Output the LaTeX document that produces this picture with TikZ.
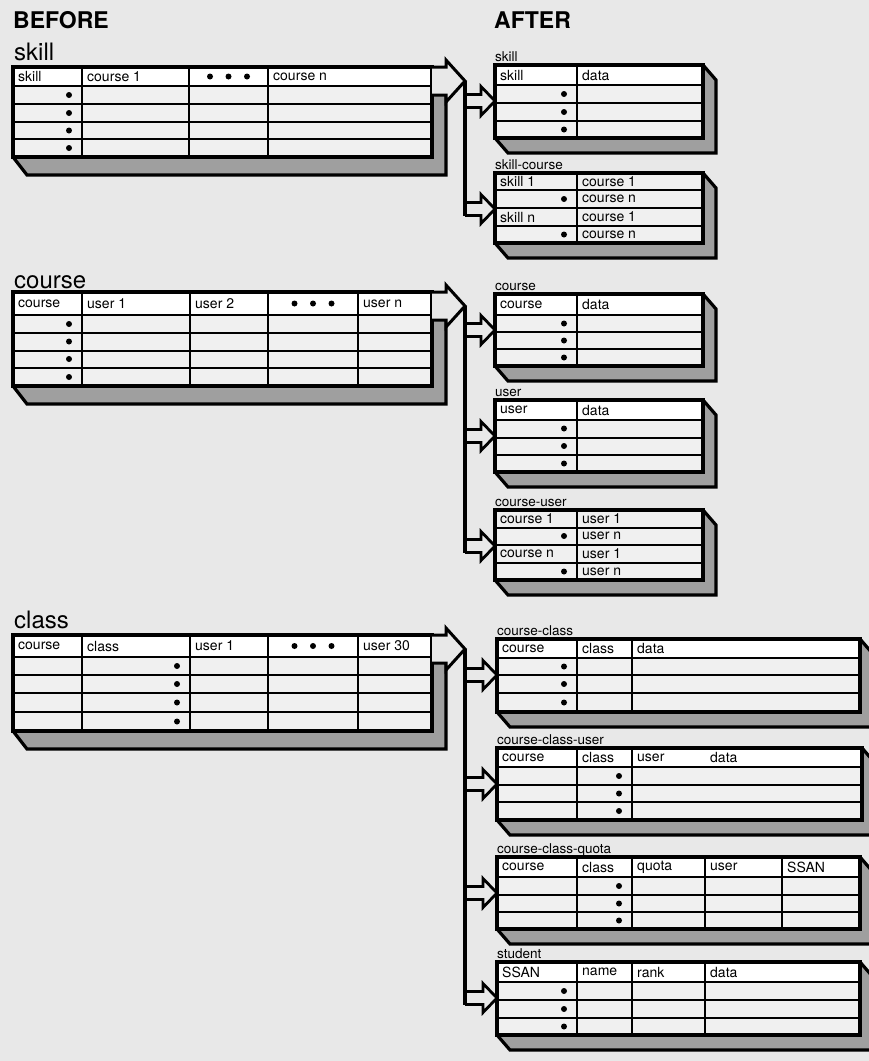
\documentclass[tikz,border=0pt]{standalone}
\usepackage{fontspec}
\setmainfont{TeX Gyre Heros}
\usetikzlibrary{calc}
\definecolor{paper}{gray}{0.91}
\definecolor{cellgray}{gray}{0.94}
\tikzset{
  sheet/.style={fill=paper},
  slabside/.style={fill=gray!75},
  slabedge/.style={line width=3.2pt, line join=miter},
  slabface/.style={draw=none, fill=cellgray, rectangle, inner sep=0pt,
    outer sep=0pt, anchor=north west},
  slabframe/.style={line width=3.2pt},
  rowline/.style={line width=2pt},
  colline/.style={line width=1.6pt},
  celltext/.style={font=\fontsize{14}{16}\selectfont, anchor=west, inner sep=0pt},
  biglabel/.style={font=\fontsize{24}{26}\selectfont, anchor=base west, inner sep=0pt},
  smalllabel/.style={font=\fontsize{13.5}{15}\selectfont, anchor=base west, inner sep=0pt},
  headlabel/.style={font=\fontsize{23}{25}\selectfont\bfseries, anchor=base west,
    inner sep=0pt},
  bigarrow/.style={draw, fill=paper, line width=3pt, line join=miter},
  smallarrow/.style={draw, fill=paper, line width=2.8pt, line join=miter},
  trunk/.style={line width=3.4pt},
}
% slab: name, x0, y0, x1, y1, header bottom
\newcommand{\slab}[6]{%
  \fill[slabside] (#2,#5) -- (#2+\sdx,#5+\sdy) -- (#4+\sdx,#5+\sdy)
    -- (#4+\sdx,#3+\sdy) -- (#4,#3) -- (#4,#5) -- cycle;
  \draw[slabedge] (#2,#5) -- (#2+\sdx,#5+\sdy) -- (#4+\sdx,#5+\sdy)
    -- (#4+\sdx,#3+\sdy) -- (#4,#3);
  \pgfmathsetmacro\slabw{#4-#2}%
  \pgfmathsetmacro\slabh{#5-#3}%
  \node[slabface, minimum width=\slabw pt, minimum height=\slabh pt] (#1) at (#2,#3) {};
  \fill[white] (#2,#3) rectangle (#4,#6);
}
\newcommand{\slabbox}[1]{\draw[slabframe] (#1.north west) rectangle (#1.south east);}
% branch: trunk tip, inlet
\newcommand{\branch}[2]{%
  \filldraw[smallarrow] ($(#1 |- #2)+(0,-6.5)$) -- ($(#2)+(-14,-6.5)$)
    -- ($(#2)+(-14,-14.5)$) -- (#2) -- ($(#2)+(-14,14.5)$)
    -- ($(#2)+(-14,6.5)$) -- ($(#1 |- #2)+(0,6.5)$);
}

\begin{document}
\begin{tikzpicture}[x=1pt, y=-1pt]
  \fill[sheet] (0,0) rectangle (869,1061);
  \useasboundingbox (0,0) rectangle (869,1061);

  % Headings
  \node[headlabel] (before) at (13,28) {BEFORE};
  \node[headlabel] (after) at (494,28) {AFTER};

  % ---------- BEFORE ----------
  \def\sdx{14}\def\sdy{18}

  % skill
  \node[biglabel] (skBl) at (14,60) {skill};
  \slab{skB}{13}{67}{432}{157}{86}
  \foreach \y in {86,104,122,139} \draw[rowline] (13,\y) -- (432,\y);
  \foreach \x in {82,189,268} \draw[colline] (\x,67) -- (\x,157);
  \slabbox{skB}
  \node[celltext] (skB1) at (18,76.5) {skill};
  \node[celltext] (skB2) at (87,76.5) {course 1};
  \node[celltext] (skB3) at (273,76.5) {course n};
  \foreach \x in {210,228.5,247} \fill (\x,76.5) circle[radius=3pt];
  \foreach \y in {95,113,130.5,148} \fill (69,\y) circle[radius=3pt];

  % course
  \node[biglabel] (coBl) at (14,288) {course};
  \slab{coB}{13}{292}{432}{386}{315}
  \foreach \y in {315,333,350.5,368} \draw[rowline] (13,\y) -- (432,\y);
  \foreach \x in {82,190,268,358} \draw[colline] (\x,292) -- (\x,386);
  \slabbox{coB}
  \node[celltext] (coB1) at (18,303.5) {course};
  \node[celltext] (coB2) at (87,303.5) {user 1};
  \node[celltext] (coB3) at (195,303.5) {user 2};
  \node[celltext] (coB4) at (363,303.5) {user n};
  \foreach \x in {294.5,313,331.5} \fill (\x,303.5) circle[radius=3pt];
  \foreach \y in {324,341.5,359,377} \fill (69,\y) circle[radius=3pt];

  % class
  \node[biglabel] (clBl) at (14,628) {class};
  \slab{clB}{13}{635}{432}{731}{657}
  \foreach \y in {657,675,693,712} \draw[rowline] (13,\y) -- (432,\y);
  \foreach \x in {82,190,268,358} \draw[colline] (\x,635) -- (\x,731);
  \slabbox{clB}
  \node[celltext] (clB1) at (18,646) {course};
  \node[celltext] (clB2) at (87,646) {class};
  \node[celltext] (clB3) at (195,646) {user 1};
  \node[celltext] (clB4) at (363,646) {user 30};
  \foreach \x in {294.5,313,331.5} \fill (\x,646) circle[radius=3pt];
  \foreach \y in {666,684,702.5,721.5} \fill (177,\y) circle[radius=3pt];

  % ---------- AFTER ----------
  \def\sdx{13}\def\sdy{15}

  % skill
  \node[smalllabel] (skAl) at (495,61) {skill};
  \slab{skA}{495}{65}{703}{138}{85}
  \foreach \y in {85,103,121} \draw[rowline] (495,\y) -- (703,\y);
  \draw[colline] (577,65) -- (577,138);
  \slabbox{skA}
  \node[celltext] (skA1) at (500,75) {skill};
  \node[celltext] (skA2) at (582,75) {data};
  \foreach \y in {94,112,129.5} \fill (564,\y) circle[radius=3pt];

  % skill-course
  \node[smalllabel] (scAl) at (495,169) {skill-course};
  \slab{scA}{495}{173}{703}{243}{173}
  \foreach \y in {190,208,226} \draw[rowline] (495,\y) -- (703,\y);
  \draw[colline] (577,173) -- (577,243);
  \slabbox{scA}
  \node[celltext] (scA1) at (500,181.5) {skill 1};
  \node[celltext] (scA2) at (500,217) {skill n};
  \node[celltext] (scA3) at (582,181.5) {course 1};
  \node[celltext] (scA4) at (582,199) {course n};
  \node[celltext] (scA5) at (582,217) {course 1};
  \node[celltext] (scA6) at (582,234.5) {course n};
  \foreach \y in {199,234.5} \fill (564,\y) circle[radius=3pt];

  % course
  \node[smalllabel] (coAl) at (495,290) {course};
  \slab{coA}{495}{294}{703}{366}{315}
  \foreach \y in {315,332,349} \draw[rowline] (495,\y) -- (703,\y);
  \draw[colline] (577,294) -- (577,366);
  \slabbox{coA}
  \node[celltext] (coA1) at (500,304.5) {course};
  \node[celltext] (coA2) at (582,304.5) {data};
  \foreach \y in {323.5,340.5,357.5} \fill (564,\y) circle[radius=3pt];

  % user
  \node[smalllabel] (usAl) at (495,396) {user};
  \slab{usA}{495}{400}{703}{472}{420}
  \foreach \y in {420,437.5,455} \draw[rowline] (495,\y) -- (703,\y);
  \draw[colline] (577,400) -- (577,472);
  \slabbox{usA}
  \node[celltext] (usA1) at (500,410) {user};
  \node[celltext] (usA2) at (582,410) {data};
  \foreach \y in {428.5,446,463.5} \fill (564,\y) circle[radius=3pt];

  % course-user
  \node[smalllabel] (cuAl) at (495,506) {course-user};
  \slab{cuA}{495}{510}{703}{580}{510}
  \foreach \y in {527.5,545,562.5} \draw[rowline] (495,\y) -- (703,\y);
  \draw[colline] (577,510) -- (577,580);
  \slabbox{cuA}
  \node[celltext] (cuA1) at (500,518.5) {course 1};
  \node[celltext] (cuA2) at (500,554) {course n};
  \node[celltext] (cuA3) at (582,518.5) {user 1};
  \node[celltext] (cuA4) at (582,536) {user n};
  \node[celltext] (cuA5) at (582,554) {user 1};
  \node[celltext] (cuA6) at (582,571.5) {user n};
  \foreach \y in {536,571.5} \fill (564,\y) circle[radius=3pt];

  % course-class
  \node[smalllabel] (ccAl) at (497,635) {course-class};
  \slab{ccA}{497}{639}{860}{712}{658}
  \foreach \y in {658,675,693} \draw[rowline] (497,\y) -- (860,\y);
  \foreach \x in {577,632} \draw[colline] (\x,639) -- (\x,712);
  \slabbox{ccA}
  \node[celltext] (ccA1) at (502,648.5) {course};
  \node[celltext] (ccA2) at (582,648.5) {class};
  \node[celltext] (ccA3) at (637,648.5) {data};
  \foreach \y in {666.5,684,702.5} \fill (564,\y) circle[radius=3pt];

  % course-class-user
  \node[smalllabel] (ccuAl) at (497,744) {course-class-user};
  \slab{ccuA}{497}{748}{862}{820}{767}
  \foreach \y in {767,785,802} \draw[rowline] (497,\y) -- (862,\y);
  \foreach \x in {577,632} \draw[colline] (\x,748) -- (\x,820);
  \slabbox{ccuA}
  \node[celltext] (ccuA1) at (502,757.5) {course};
  \node[celltext] (ccuA2) at (582,757.5) {class};
  \node[celltext] (ccuA3) at (637,757.5) {user};
  \node[celltext] (ccuA4) at (710,757.5) {data};
  \foreach \y in {776,793.5,811} \fill (619,\y) circle[radius=3pt];

  % course-class-quota
  \node[smalllabel] (cqAl) at (497,853) {course-class-quota};
  \slab{cqA}{497}{857}{860}{929}{877}
  \foreach \y in {877,895,912} \draw[rowline] (497,\y) -- (860,\y);
  \foreach \x in {577,632,705,782} \draw[colline] (\x,857) -- (\x,929);
  \slabbox{cqA}
  \node[celltext] (cqA1) at (502,867) {course};
  \node[celltext] (cqA2) at (582,867) {class};
  \node[celltext] (cqA3) at (637,867) {quota};
  \node[celltext] (cqA4) at (710,867) {user};
  \node[celltext] (cqA5) at (787,867) {SSAN};
  \foreach \y in {886,903.5,920.5} \fill (619,\y) circle[radius=3pt];

  % student
  \node[smalllabel] (stAl) at (497,958) {student};
  \slab{stA}{497}{962}{860}{1035}{982}
  \foreach \y in {982,1000,1018} \draw[rowline] (497,\y) -- (860,\y);
  \foreach \x in {577,632,705} \draw[colline] (\x,962) -- (\x,1035);
  \slabbox{stA}
  \node[celltext] (stA1) at (502,972) {SSAN};
  \node[celltext] (stA2) at (582,972) {name};
  \node[celltext] (stA3) at (637,972) {rank};
  \node[celltext] (stA4) at (710,972) {data};
  \foreach \y in {991,1009,1026.5} \fill (564,\y) circle[radius=3pt];

  % ---------- splits ----------
  \foreach \t in {skB,coB,clB} {
    \coordinate (\t-tip) at ($(\t.north east)+(33,14)$);
    \filldraw[bigarrow] (\t.north east) -- ++(14,0) -- ++(0,-7) -- (\t-tip)
      -- ($(\t.north east)+(14,35)$) -- ++(0,-7) -- ++(-14,0);
  }
  \foreach \t in {skA,scA,coA,usA,cuA,ccA,ccuA,cqA,stA}
    \coordinate (\t-in) at ($(\t.north west)+(0,36)$);

  % skill -> skill, skill-course
  \branch{skB-tip}{skA-in}
  \branch{skB-tip}{scA-in}
  \draw[trunk] (skB-tip) -- ($(skB-tip |- scA-in)+(0,6.5)$);

  % course -> course, user, course-user
  \branch{coB-tip}{coA-in}
  \branch{coB-tip}{usA-in}
  \branch{coB-tip}{cuA-in}
  \draw[trunk] (coB-tip) -- ($(coB-tip |- cuA-in)+(0,6.5)$);

  % class -> course-class, course-class-user, course-class-quota, student
  \branch{clB-tip}{ccA-in}
  \branch{clB-tip}{ccuA-in}
  \branch{clB-tip}{cqA-in}
  \branch{clB-tip}{stA-in}
  \draw[trunk] (clB-tip) -- ($(clB-tip |- stA-in)+(0,6.5)$);
\end{tikzpicture}
\end{document}
